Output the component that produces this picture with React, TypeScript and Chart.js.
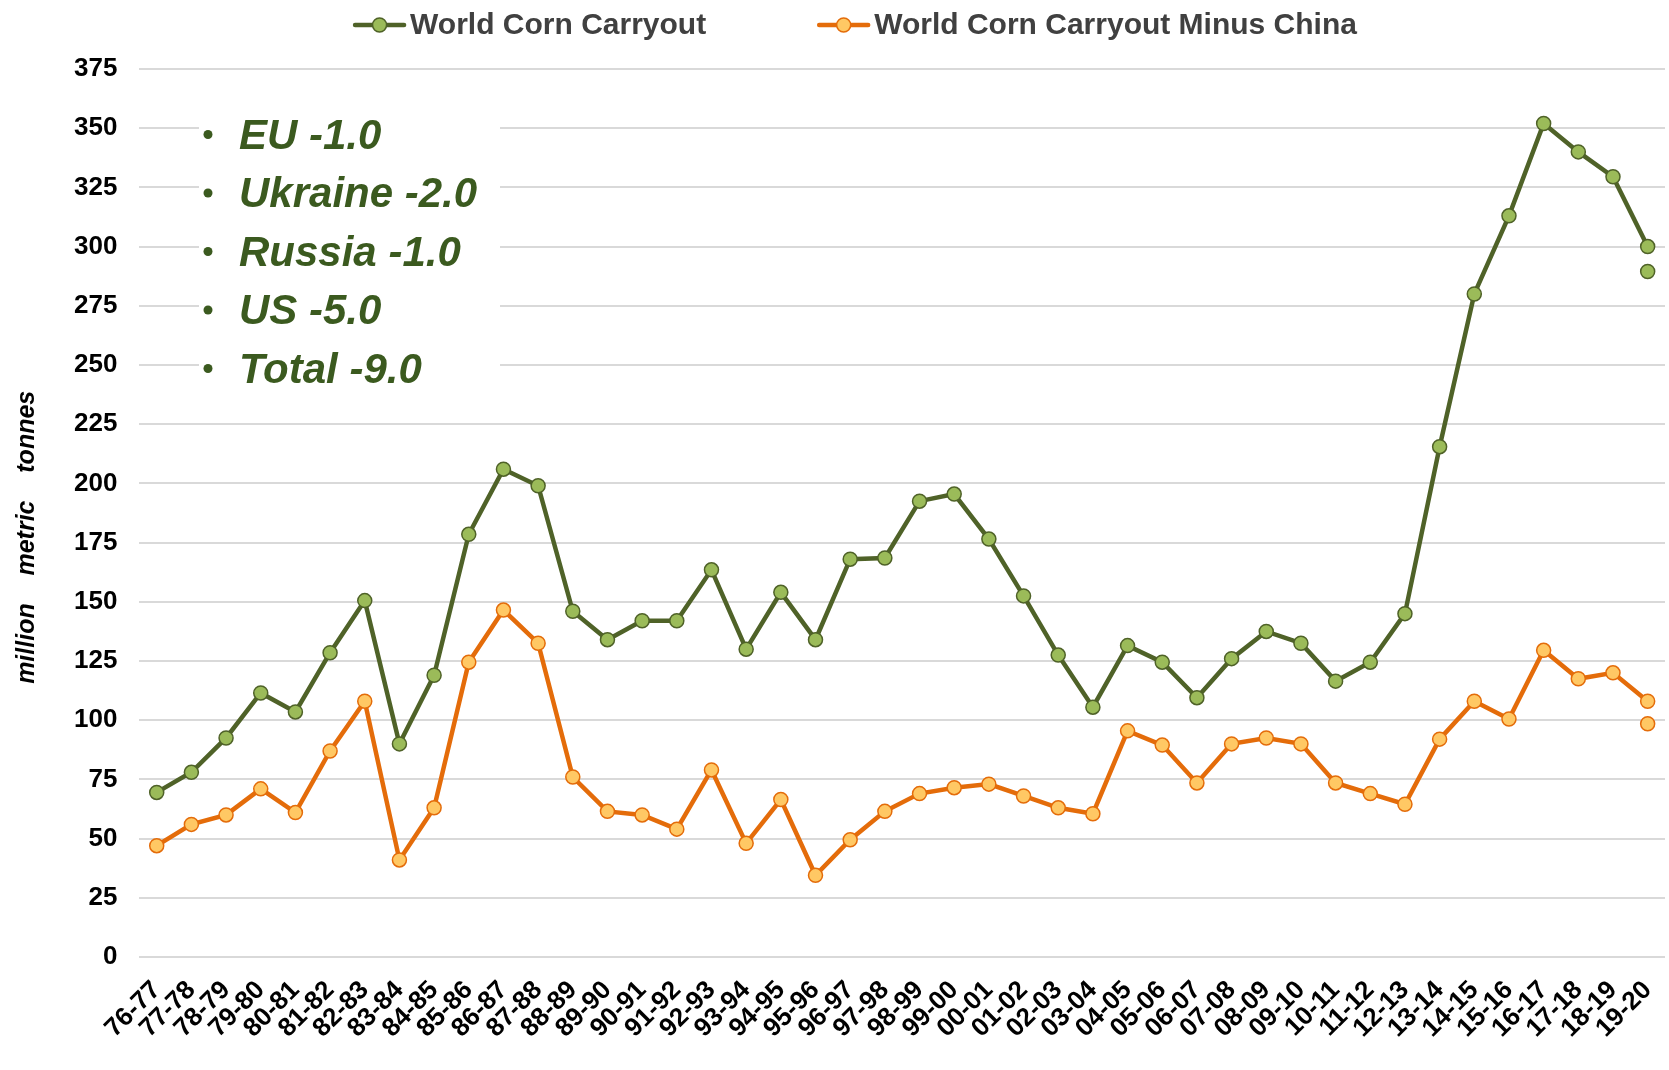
import React, { useEffect, useRef } from "react";
import { Chart, registerables } from "chart.js";

Chart.register(...registerables);

const categories = [
  "76-77", "77-78", "78-79", "79-80", "80-81", "81-82", "82-83", "83-84", "84-85", "85-86",
  "86-87", "87-88", "88-89", "89-90", "90-91", "91-92", "92-93", "93-94", "94-95", "95-96",
  "96-97", "97-98", "98-99", "99-00", "00-01", "01-02", "02-03", "03-04", "04-05", "05-06",
  "06-07", "07-08", "08-09", "09-10", "10-11", "11-12", "12-13", "13-14", "14-15", "15-16",
  "16-17", "17-18", "18-19", "19-20",
];

const worldCarryout = [
  69.5, 78, 92.5, 111.5, 103.5, 128.5, 150.5, 90, 119, 178.5,
  206, 199, 146, 134, 142, 142, 163.5, 130, 154, 134,
  168, 168.5, 192.5, 195.5, 176.5, 152.5, 127.5, 105.5, 131.5, 124.5,
  109.5, 126, 137.5, 132.5, 116.5, 124.5, 145, 215.5, 280, 313,
  352, 340, 329.5, 300,
];

const worldMinusChina = [
  47, 56, 60, 71, 61, 87, 108, 41, 63, 124.5,
  146.5, 132.5, 76, 61.5, 60, 54, 79, 48, 66.5, 34.5,
  49.5, 61.5, 69, 71.5, 73, 68, 63, 60.5, 95.5, 89.5,
  73.5, 90, 92.5, 90, 73.5, 69, 64.5, 92, 108, 100.5,
  129.5, 117.5, 120, 108,
];

// revised latest estimates (shown as lone markers on the last category)
const worldCarryoutRevised = 289.5;
const worldMinusChinaRevised = 98.5;

const seriesNames = ["World Corn Carryout", "World Corn Carryout Minus China"];
const changeNotes = ["EU -1.0", "Ukraine -2.0", "Russia -1.0", "US -5.0", "Total -9.0"];
const yAxisTitle = "million    metric    tonnes       ";
const yMin = 0;
const yMax = 375;
const yStep = 25;

const FONT = '"Liberation Sans", Arial, Helvetica, sans-serif';
const GREEN_LINE = "#4F6228";
const GREEN_FILL = "#9BBB59";
const ORANGE_LINE = "#E46C0A";
const ORANGE_FILL = "#FFC864";
const NOTE_COLOR = "#3B5A1F";

const lastOnly = (v: number) =>
  categories.map((_, i) => (i === categories.length - 1 ? v : null));

const legendPlugin = {
  id: "excelLegend",
  afterDraw(chart: any) {
    const ctx = chart.ctx;
    ctx.save();
    ctx.font = `bold 30px ${FONT}`;
    const items = chart.data.datasets.slice(0, 2);
    const lineW = 53;
    const gapText = 4;
    const gapItems = 111;
    const widths = items.map((ds: any) => lineW + gapText + ctx.measureText(ds.label).width);
    const total = widths.reduce((a: number, b: number) => a + b, 0) + gapItems;
    let x = 855 - total / 2;
    const y = 25;
    items.forEach((ds: any, i: number) => {
      ctx.strokeStyle = ds.borderColor;
      ctx.lineWidth = 4.5;
      ctx.lineCap = "round";
      ctx.beginPath();
      ctx.moveTo(x + 2, y);
      ctx.lineTo(x + lineW - 2, y);
      ctx.stroke();
      ctx.beginPath();
      ctx.arc(x + lineW / 2, y, 7, 0, Math.PI * 2);
      ctx.fillStyle = ds.pointBackgroundColor;
      ctx.fill();
      ctx.lineWidth = 1.5;
      ctx.strokeStyle = ds.pointBorderColor;
      ctx.stroke();
      ctx.fillStyle = "#404040";
      ctx.textBaseline = "middle";
      ctx.textAlign = "left";
      ctx.fillText(ds.label, x + lineW + gapText, y + 1);
      x += widths[i] + gapItems;
    });
    ctx.restore();
  },
};

const notesPlugin = {
  id: "notesBox",
  beforeDatasetsDraw(chart: any) {
    const ctx = chart.ctx;
    ctx.save();
    ctx.fillStyle = "#ffffff";
    ctx.fillRect(199, 100, 301, 295);
    ctx.font = `italic bold 42px ${FONT}`;
    ctx.fillStyle = NOTE_COLOR;
    ctx.textAlign = "left";
    ctx.textBaseline = "alphabetic";
    changeNotes.forEach((t, i) => {
      const base = 148.5 + i * 58.5;
      ctx.beginPath();
      ctx.arc(208, base - 14, 4.5, 0, Math.PI * 2);
      ctx.fill();
      ctx.fillText(t, 239, base);
    });
    ctx.restore();
  },
};

export default function App() {
  const ref = useRef<HTMLCanvasElement | null>(null);

  useEffect(() => {
    document.body.style.margin = "0";
    const canvas = ref.current;
    if (!canvas) return;
    Chart.defaults.font.family = FONT;
    const pointStyle = (fill: string, border: string) => ({
      pointRadius: 7,
      pointBackgroundColor: fill,
      pointBorderColor: border,
      pointBorderWidth: 1.5,
    });
    const chart = new Chart(canvas, {
      type: "line",
      data: {
        labels: categories,
        datasets: [
          {
            label: seriesNames[0],
            data: worldCarryout,
            borderColor: GREEN_LINE,
            backgroundColor: GREEN_FILL,
            borderWidth: 4.5,
            tension: 0,
            clip: false,
            ...pointStyle(GREEN_FILL, GREEN_LINE),
          },
          {
            label: seriesNames[1],
            data: worldMinusChina,
            borderColor: ORANGE_LINE,
            backgroundColor: ORANGE_FILL,
            borderWidth: 4.5,
            tension: 0,
            clip: false,
            ...pointStyle(ORANGE_FILL, ORANGE_LINE),
          },
          {
            label: seriesNames[0] + " (revised)",
            data: lastOnly(worldCarryoutRevised),
            showLine: false,
            clip: false,
            ...pointStyle(GREEN_FILL, GREEN_LINE),
          },
          {
            label: seriesNames[1] + " (revised)",
            data: lastOnly(worldMinusChinaRevised),
            showLine: false,
            clip: false,
            ...pointStyle(ORANGE_FILL, ORANGE_LINE),
          },
        ],
      },
      options: {
        responsive: false,
        animation: false,
        devicePixelRatio: 1,
        layout: { autoPadding: false, padding: { left: 8, right: 4, top: 69, bottom: 8 } },
        plugins: {
          legend: { display: false },
          tooltip: { enabled: false },
        },
        scales: {
          x: {
            type: "category",
            offset: true,
            grid: { display: false, drawTicks: false },
            border: { display: false },
            ticks: {
              autoSkip: false,
              maxRotation: 45,
              minRotation: 45,
              padding: 18,
              color: "#000000",
              font: { size: 26, weight: "bold" },
            },
            afterFit(scale: any) {
              scale.paddingLeft = 0;
              scale.paddingRight = 0;
              scale.height = 105;
            },
          },
          y: {
            min: yMin,
            max: yMax,
            border: { display: false },
            grid: { color: "#D9D9D9", lineWidth: 2, drawTicks: false },
            ticks: {
              stepSize: yStep,
              padding: 22,
              color: "#000000",
              font: { size: 26, weight: "bold" },
            },
            title: {
              display: true,
              text: yAxisTitle,
              color: "#000000",
              font: { size: 25, weight: "bold", style: "italic" },
              padding: { top: 4, bottom: 10 },
            },
          },
        },
      },
      plugins: [notesPlugin, legendPlugin],
    } as any);
    return () => chart.destroy();
  }, []);

  return (
    <canvas
      ref={ref}
      width={1669}
      height={1070}
      style={{ width: "1669px", height: "1070px", display: "block" }}
    />
  );
}
